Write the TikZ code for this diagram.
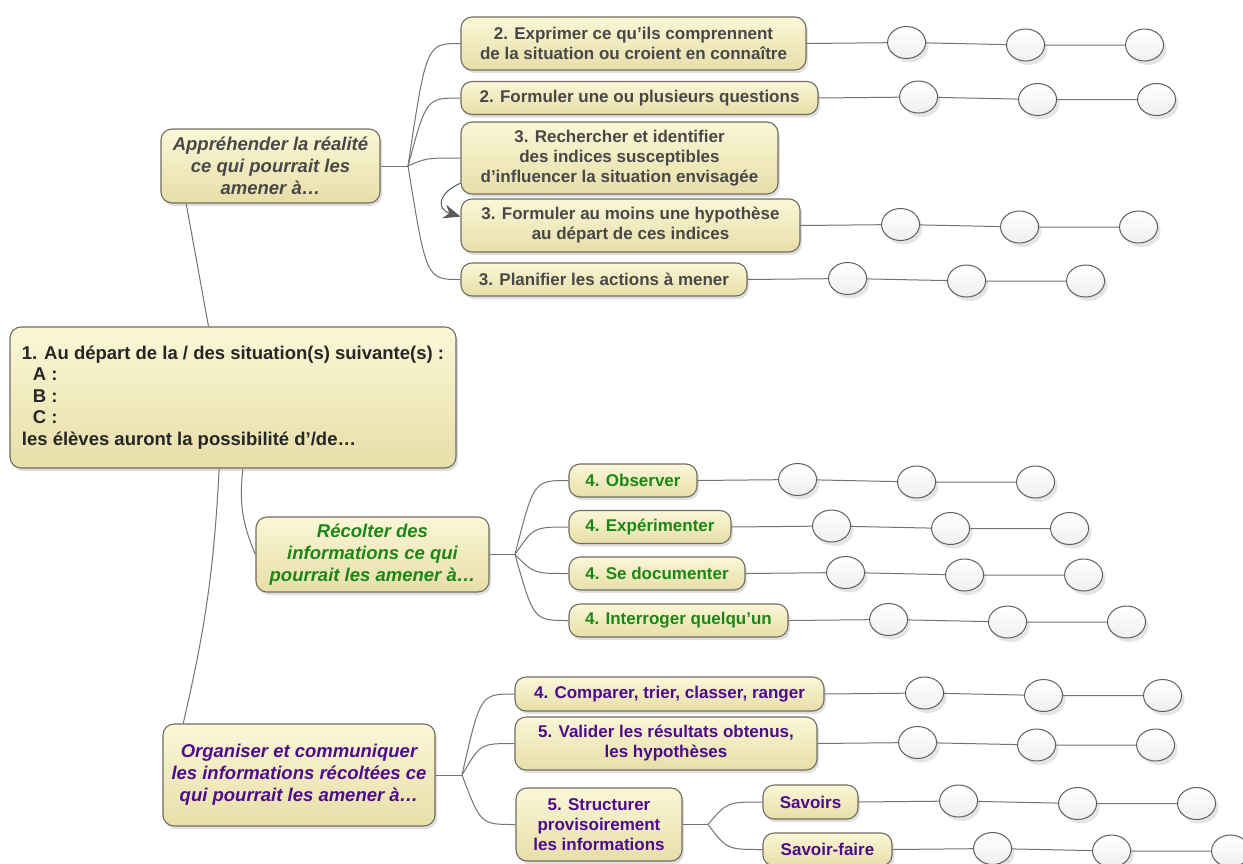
\documentclass[tikz,border=0pt]{standalone}
\usepackage{fontspec}
\setmainfont{Liberation Sans}
\usetikzlibrary{arrows.meta,calc,shadows,shapes.geometric}

\definecolor{tanA}{RGB}{251,247,215}
\definecolor{tanB}{RGB}{231,222,168}
\definecolor{boxline}{RGB}{112,110,98}
\definecolor{wire}{RGB}{115,115,115}
\definecolor{ink}{RGB}{72,72,72}
\definecolor{rootink}{RGB}{38,38,38}
\definecolor{leafgreen}{RGB}{28,135,22}
\definecolor{leafpurple}{RGB}{78,12,140}

\tikzset{
  box/.style={draw=boxline,line width=1.1pt,rounded corners=11pt,
    top color=tanA,bottom color=tanB,inner sep=0pt,align=center,text=ink,
    font=\bfseries\fontsize{17}{20}\selectfont,
    drop shadow={shadow xshift=2pt,shadow yshift=-3pt,opacity=0.25}},
  sz/.style 2 args={minimum width=#1,minimum height=#2},
  topic/.style={box,font=\bfseries\itshape\fontsize{18.5}{22}\selectfont},
  leaf/.style={ellipse,draw=gray!75!black,line width=1pt,top color=white,
    bottom color=gray!12,minimum width=38pt,minimum height=32pt,inner sep=0pt,
    drop shadow={shadow xshift=3pt,shadow yshift=-4pt,opacity=0.2}},
  link/.style={draw=wire,line width=1pt},
}

\begin{document}
\begin{tikzpicture}[x=1pt,y=-1pt]
\fill[white] (0,0) rectangle (1243,863);
\clip (0,0) rectangle (1243,863);

% starting situation
\node[box,sz={446}{141},align=left,text=rootink,
  font=\bfseries\fontsize{18.5}{21.5}\selectfont] (root) at (233,397.5)
  {1. Au départ de la / des situation(s) suivante(s) :\\
   \hspace*{11pt}A :\\ \hspace*{11pt}B :\\ \hspace*{11pt}C :\\
   les élèves auront la possibilité d’/de…};

% first branch
\node[topic,sz={219}{74}] (appr) at (270.5,166)
  {Appréhender la réalité\\ce qui pourrait les\\amener à…};
\node[box,sz={345}{53}] (c1) at (633.5,43.5)
  {2. Exprimer ce qu’ils comprennent\\de la situation ou croient en connaître};
\node[box,sz={357}{33}] (c2) at (639.5,98) {2. Formuler une ou plusieurs questions};
\node[box,sz={317}{72}] (c3) at (619.5,158)
  {3. Rechercher et identifier\\des indices susceptibles\\d’influencer la situation envisagée};
\node[box,sz={339}{53}] (c4) at (630.5,225.5)
  {3. Formuler au moins une hypothèse\\au départ de ces indices};
\node[box,sz={286}{33}] (c5) at (604,279.5) {3. Planifier les actions à mener};

% second branch
\node[topic,sz={233}{75},text=leafgreen] (recolt) at (372.5,554.5)
  {Récolter des\\informations ce qui\\pourrait les amener à…};
\node[box,sz={128}{33},text=leafgreen] (obs) at (633,480.5) {4. Observer};
\node[box,sz={162}{33},text=leafgreen] (expe) at (650,527) {4. Expérimenter};
\node[box,sz={176}{33},text=leafgreen] (doc) at (657,573.5) {4. Se documenter};
\node[box,sz={219}{33},text=leafgreen] (ask) at (678.5,620.5) {4. Interroger quelqu’un};

% third branch
\node[topic,sz={272}{102},text=leafpurple] (organ) at (299,775)
  {Organiser et communiquer\\les informations récoltées ce\\qui pourrait les amener à…};
\node[box,sz={309}{34},text=leafpurple] (cmp) at (669.5,694)
  {4. Comparer, trier, classer, ranger};
\node[box,sz={302}{53},text=leafpurple] (val) at (666,743.5)
  {5. Valider les résultats obtenus,\\les hypothèses};
\node[box,sz={166}{73},text=leafpurple] (struct) at (599,824.5)
  {5. Structurer\\provisoirement\\les informations};
\node[box,sz={95}{34},text=leafpurple] (sav) at (810.5,802) {Savoirs};
\node[box,sz={129}{33},text=leafpurple] (svf) at (827.5,849.5) {Savoir-faire};

% trunk
\draw[link] (root.109) -- (appr.204);
\draw[link] (root.278) to[bend right=15] (recolt.west);
\draw[link] (root.259) to[bend left=5] (organ.156);

% fans
\coordinate (f1) at (408,166);
\coordinate (f2) at (515,554.5);
\coordinate (f3) at (462,775);
\coordinate (f4) at (708,824.5);
\draw[link] (appr.east) -- (f1) (recolt.east) -- (f2) (organ.east) -- (f3) (struct.east) -- (f4);
\foreach \f/\c in {f1/c1,f1/c2,f1/c3,f1/c5,f2/obs,f2/expe,f2/doc,f2/ask,
                   f3/cmp,f3/val,f3/struct,f4/sav,f4/svf}
  \draw[link] (\f) .. controls ($(\f |- \c.west)!.35!(\c.west)$) .. (\c.west);

\draw[link,draw=gray!70!black,-{Stealth[length=17pt,width=14pt]}]
  (c3.189) .. controls (438,193) and (436,209) .. (c4.177);

% empty slots
\foreach \n in {c1,c2,c4,c5,obs,expe,doc,ask,cmp,val,sav,svf}{
  \node[leaf] (\n-1) at ($(\n.east)+(100,-1)$) {};
  \node[leaf] (\n-2) at ($(\n-1)+(119,2.5)$) {};
  \node[leaf] (\n-3) at ($(\n-2)+(119,0)$) {};
  \draw[link] (\n.east) -- (\n-1) -- (\n-2) -- (\n-3);
}
\end{tikzpicture}
\end{document}
